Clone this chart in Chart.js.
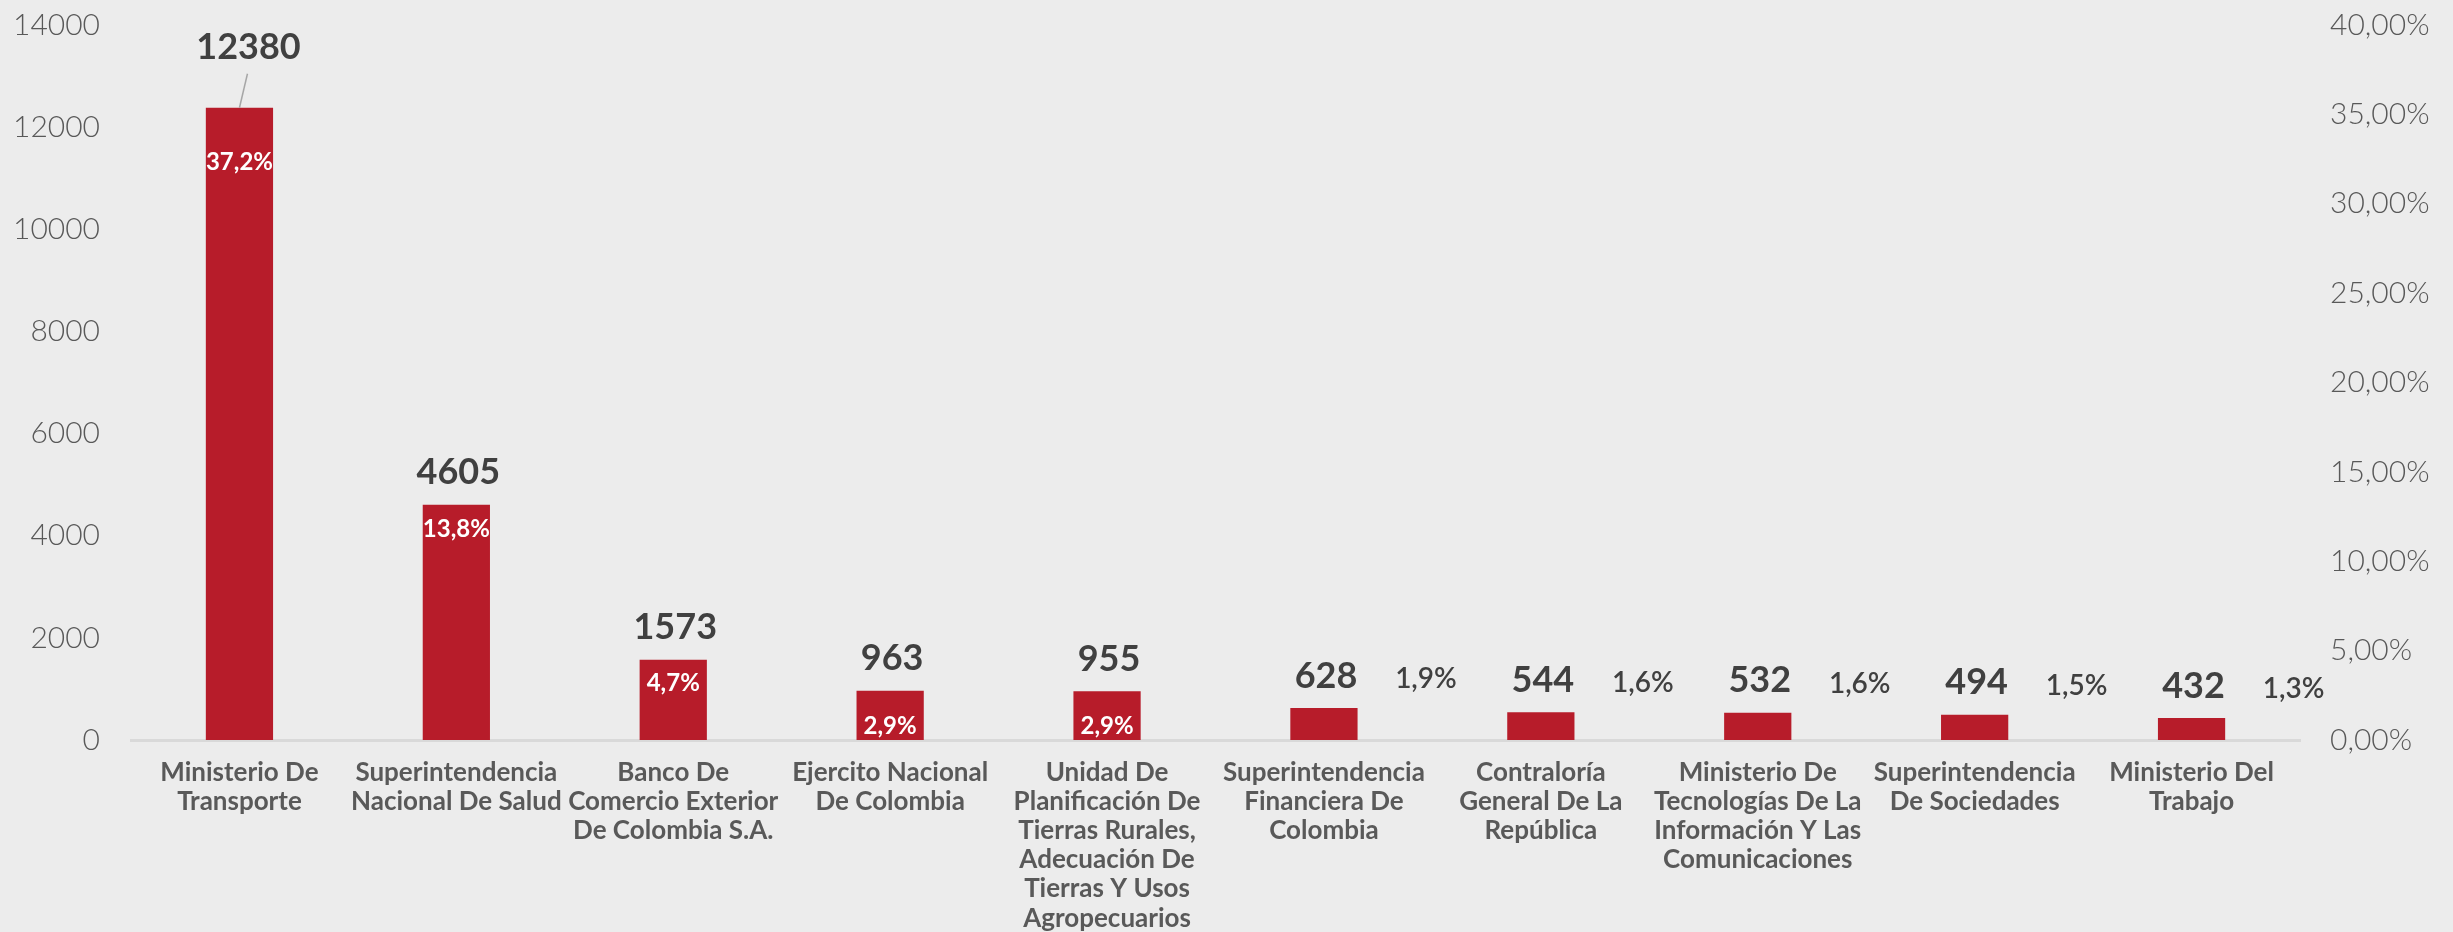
<!DOCTYPE html>
<html>
<head>
<meta charset="utf-8">
<script src="https://cdn.jsdelivr.net/npm/chart.js@4"></script>
<style>
  html, body { margin: 0; padding: 0; background: #ececec; }
  #wrap { width: 2453px; height: 932px; position: relative; }
</style>
</head>
<body>
<div id="wrap"><canvas id="entidadesChart"></canvas></div>
<script>
// entidades y numero de casos
const entidades = [
    ["Ministerio De", "Transporte"],
    ["Superintendencia", "Nacional De Salud"],
    ["Banco De", "Comercio Exterior", "De Colombia S.A."],
    ["Ejercito Nacional", "De Colombia"],
    ["Unidad De", "Planificación De", "Tierras Rurales,", "Adecuación De", "Tierras Y Usos", "Agropecuarios"],
    ["Superintendencia", "Financiera De", "Colombia"],
    ["Contraloría", "General De La", "República"],
    ["Ministerio De", "Tecnologías De La", "Información Y Las", "Comunicaciones"],
    ["Superintendencia", "De Sociedades"],
    ["Ministerio Del", "Trabajo"],
];
const casos = [12380, 4605, 1573, 963, 955, 628, 544, 532, 494, 432];
const porcentajes = [37.2, 13.8, 4.7, 2.9, 2.9, 1.9, 1.6, 1.6, 1.5, 1.3];

const rojo = "#b71c2a";
const gris = "#404040";
const fuente = "Lato, 'Open Sans', sans-serif";

function pct(v, dec) {
    return v.toFixed(dec).replace(".", ",") + "%";
}

// etiquetas de valor y porcentaje
const etiquetas = {
    id: "etiquetas",
    afterDatasetsDraw(chart) {
        const ctx = chart.ctx;
        const meta = chart.getDatasetMeta(0);
        const maximo = Math.max(...casos);
        ctx.save();
        ctx.textAlign = "center";
        ctx.textBaseline = "middle";
        meta.data.forEach((bar, i) => {
            let yVal = bar.y - 32;
            if (casos[i] === maximo) {
                yVal = bar.y - 60;
                ctx.strokeStyle = "#a6a6a6";
                ctx.lineWidth = 1.5;
                ctx.beginPath();
                ctx.moveTo(bar.x + 8, yVal + 26);
                ctx.lineTo(bar.x, bar.y);
                ctx.stroke();
            }
            ctx.fillStyle = gris;
            ctx.font = "bold 36px " + fuente;
            ctx.fillText(String(casos[i]), bar.x + (casos[i] === maximo ? 9 : 2), yVal);

            const alto = bar.base - bar.y;
            if (alto > 40) {
                ctx.fillStyle = "#ffffff";
                ctx.font = "bold 24px " + fuente;
                let yIn = bar.y + (alto > 60 ? 24 : 35);
                if (casos[i] === maximo) yIn = bar.y + 55;
                ctx.fillText(pct(porcentajes[i], 1), bar.x, yIn);
            } else {
                ctx.fillStyle = gris;
                ctx.font = "600 28px " + fuente;
                ctx.fillText(pct(porcentajes[i], 1), bar.x + 102, yVal + 3);
            }
        });
        ctx.restore();
    },
};

function ejeVertical(ancho) {
    return function (scale) {
        scale.width = ancho;
        scale.paddingTop = 0;
        scale.paddingBottom = 0;
    };
}

const ctx = document.getElementById("entidadesChart").getContext("2d");
const chart = new Chart(ctx, {
    type: "bar",
    data: {
        labels: entidades,
        datasets: [
            {
                label: "Casos",
                data: casos,
                backgroundColor: rojo,
                borderWidth: 0,
                categoryPercentage: 1,
                barPercentage: 0.31,
                yAxisID: "y",
            },
        ],
    },
    options: {
        responsive: true,
        maintainAspectRatio: false,
        animation: false,
        layout: {
            padding: { top: 25, left: 0, right: 0, bottom: 0 },
        },
        plugins: {
            legend: { display: false },
            tooltip: { enabled: false },
        },
        scales: {
            x: {
                grid: { display: false, drawTicks: false },
                border: { display: true, color: "#d9d9d9", width: 3 },
                ticks: {
                    autoSkip: false,
                    maxRotation: 0,
                    padding: 18,
                    color: "#595959",
                    font: { family: fuente, size: 26, weight: "bold", lineHeight: 1.12 },
                },
                afterFit(scale) {
                    scale.height = 192;
                    scale.paddingLeft = 0;
                    scale.paddingRight = 0;
                },
            },
            y: {
                position: "left",
                min: 0,
                max: 14000,
                grid: { display: false, drawTicks: false },
                border: { display: false },
                ticks: {
                    stepSize: 2000,
                    padding: 31,
                    color: "#595959",
                    font: { family: fuente, size: 30, weight: "300" },
                    callback: (v) => String(v),
                },
                afterFit: ejeVertical(131),
            },
            y1: {
                position: "right",
                min: 0,
                max: 40,
                grid: { display: false, drawTicks: false },
                border: { display: false },
                ticks: {
                    stepSize: 5,
                    padding: 30,
                    color: "#595959",
                    font: { family: fuente, size: 30, weight: "300" },
                    callback: (v) => pct(v, 2),
                },
                afterFit: ejeVertical(153),
            },
        },
    },
    plugins: [etiquetas],
});
</script>
</body>
</html>
